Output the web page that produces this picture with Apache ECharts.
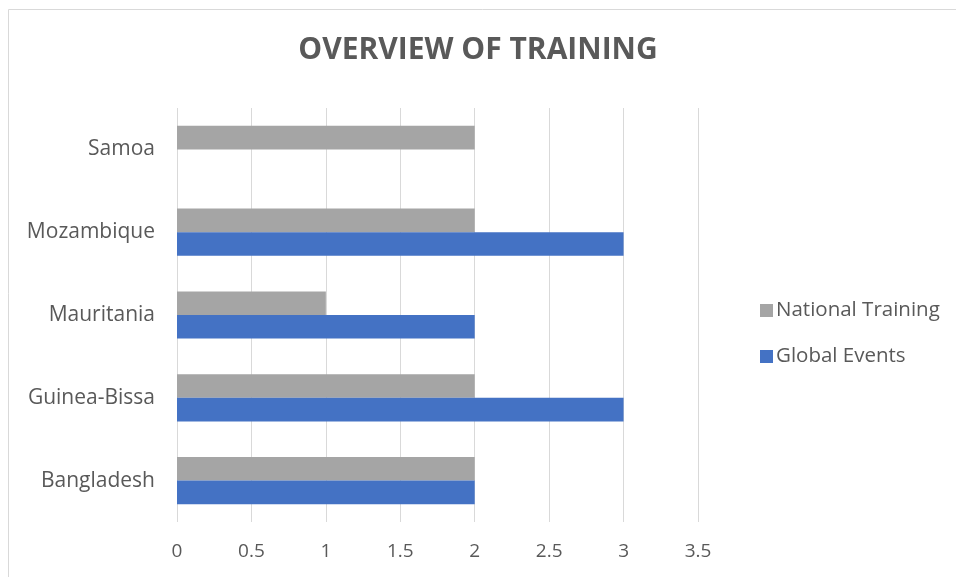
<!DOCTYPE html>
<html>
<head>
<meta charset="utf-8">
<script src="https://cdn.jsdelivr.net/npm/echarts@6/dist/echarts.min.js"></script>
<style>
  html, body { margin: 0; padding: 0; background: #fff; overflow: hidden; }
  #chart { width: 956px; height: 577px; }
</style>
</head>
<body>
<div id="chart"></div>
<script>
// categories, bottom to top like the original
const countries = ['Bangladesh', 'Guinea-Bissa', 'Mauritania', 'Mozambique', 'Samoa'];
const nationalTraining = [2, 2, 1, 2, 2];
const globalEvents = [2, 3, 2, 3, null];
const xTicks = [0, 0.5, 1, 1.5, 2, 2.5, 3, 3.5];

const textColor = '#595959';
const font = 'Open Sans';

let mycharts = echarts.init(document.getElementById('chart'));
mycharts.setOption({
    animation: false,
    title: {
        text: 'OVERVIEW OF TRAINING',
        left: 'center',
        top: 30,
        textStyle: {
            color: textColor,
            fontSize: 30,
            fontWeight: 'bold',
            fontFamily: font
        }
    },
    // chart frame (runs off the right and bottom edges)
    graphic: [{
        type: 'rect',
        shape: { x: 8.5, y: 9.5, width: 2000, height: 2000 },
        style: { fill: 'none', stroke: '#D9D9D9', lineWidth: 1 },
        silent: true,
        z: -1
    }],
    grid: {
        left: 177,
        right: 956 - 698,
        top: 108,
        bottom: 577 - 522
    },
    legend: {
        orient: 'vertical',
        left: 755,
        top: 295,
        itemGap: 25,
        itemWidth: 13,
        itemHeight: 13,
        icon: 'rect',
        data: ['National Training', 'Global Events'],
        textStyle: { color: textColor, fontSize: 20.5, fontFamily: font, padding: [0, 0, 0, -2] }
    },
    xAxis: {
        type: 'value',
        min: 0,
        max: 3.5,
        interval: 0.5,
        axisLine: { show: false },
        axisTick: { show: false },
        splitLine: { show: true, lineStyle: { color: '#D9D9D9', width: 1 } },
        axisLabel: {
            color: textColor,
            fontSize: 19,
            fontFamily: font,
            margin: 20,
            formatter: v => xTicks.includes(v) ? String(v) : ''
        }
    },
    yAxis: {
        type: 'category',
        data: countries,
        axisLine: { show: false },
        axisTick: { show: false },
        axisLabel: { color: textColor, fontSize: 21, fontFamily: font, margin: 22 }
    },
    series: [
        {
            name: 'National Training',
            type: 'bar',
            data: nationalTraining,
            barGap: '0%',
            barCategoryGap: '43%',
            itemStyle: { color: '#A5A5A5' }
        },
        {
            name: 'Global Events',
            type: 'bar',
            data: globalEvents,
            barGap: '0%',
            barCategoryGap: '43%',
            itemStyle: { color: '#4472C4' }
        }
    ]
});
</script>
</body>
</html>
